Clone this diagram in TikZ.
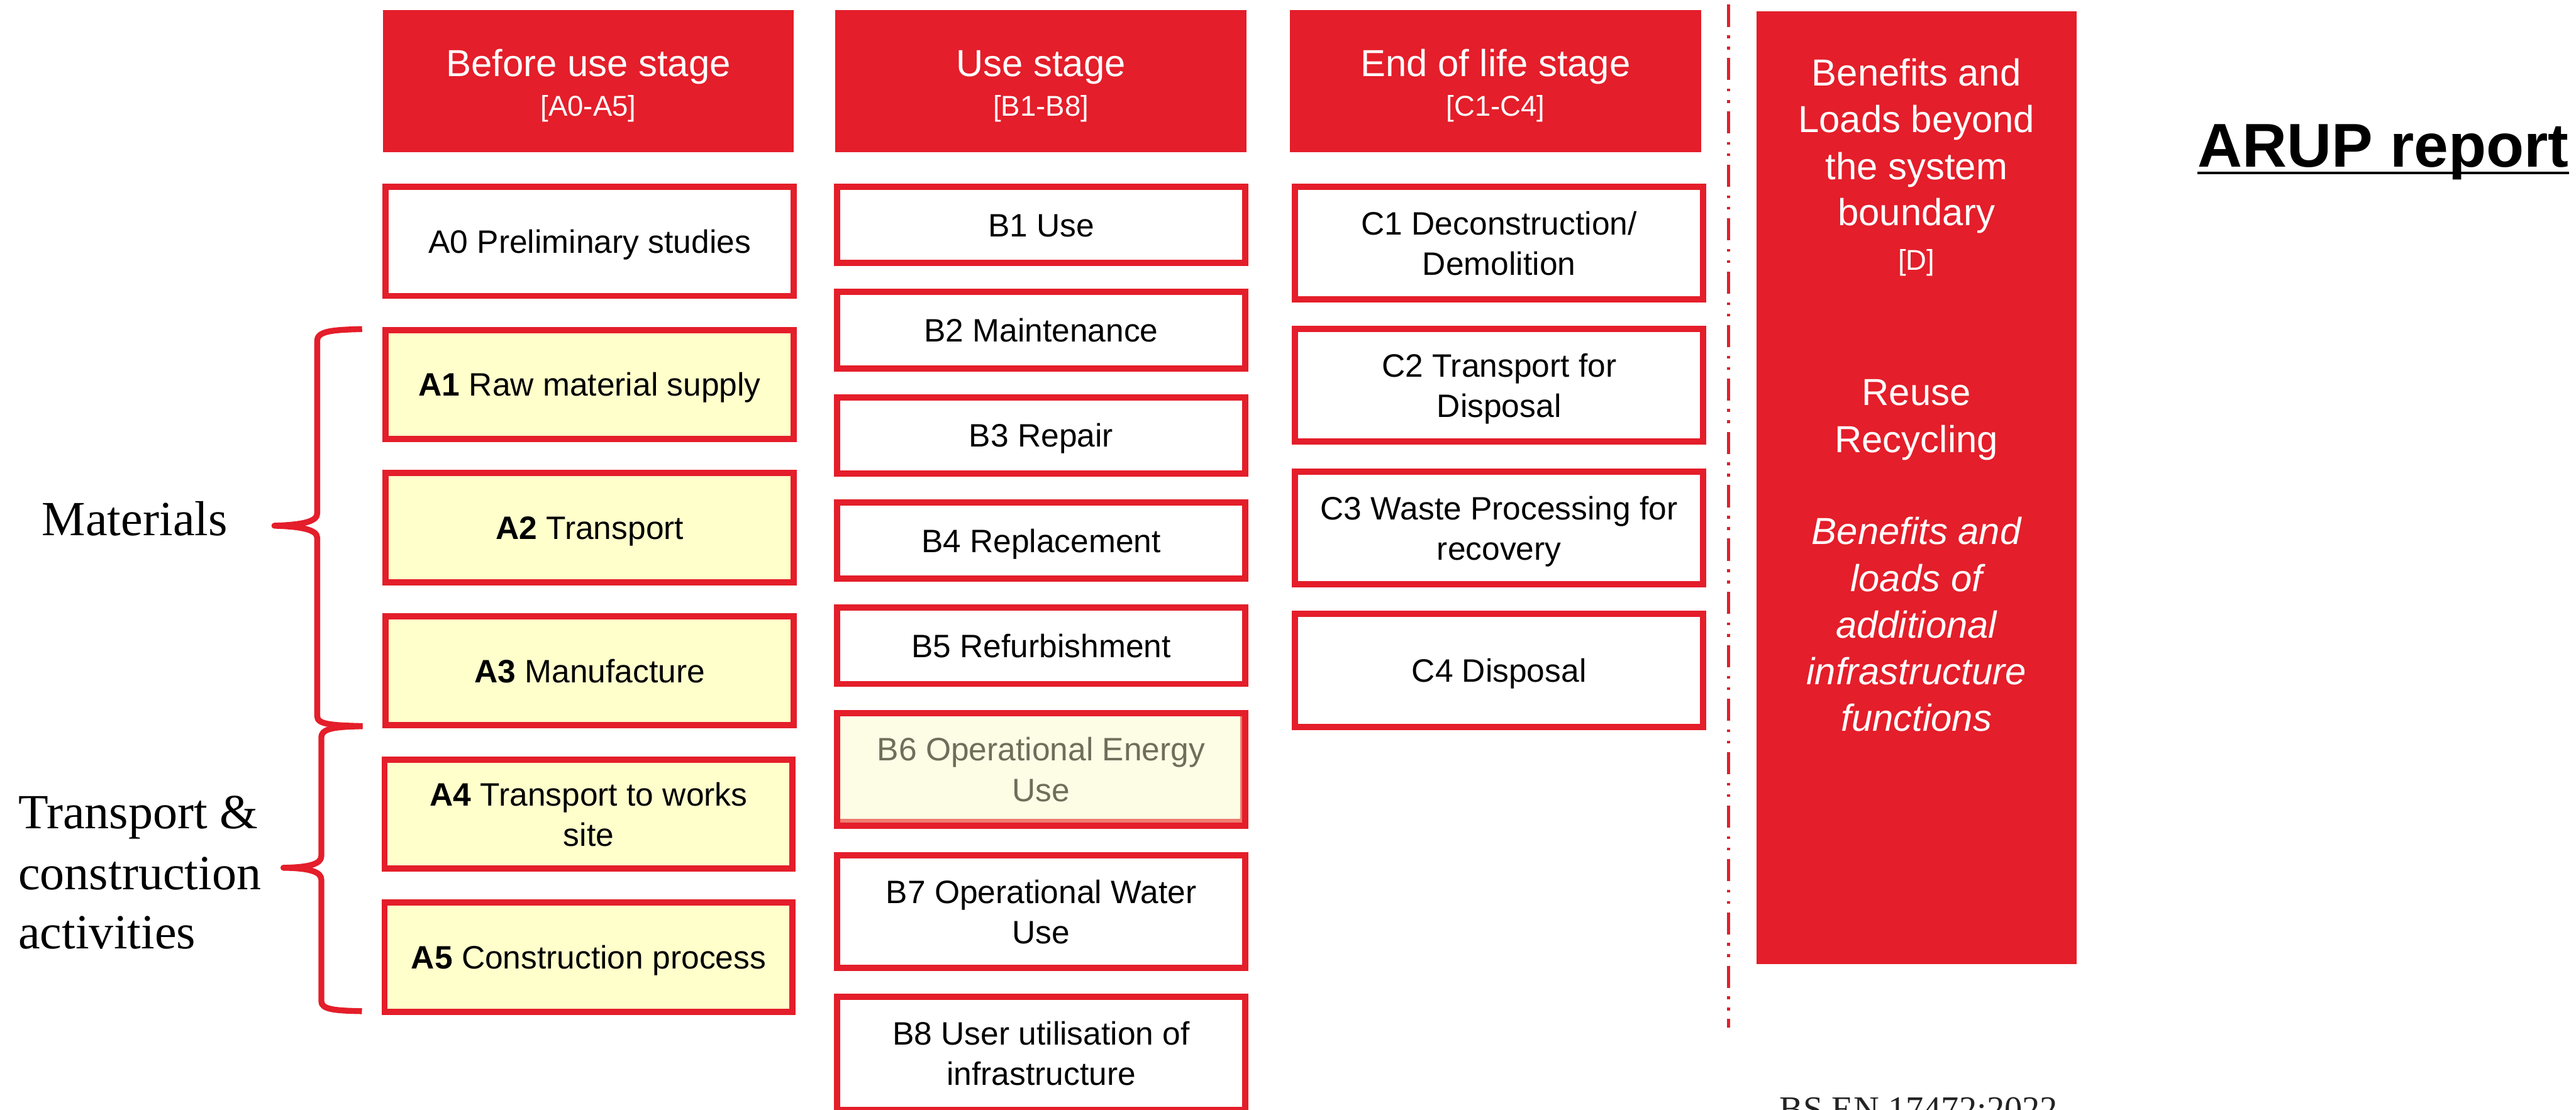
\documentclass[tikz,border=0pt]{standalone}
\usepackage{fontspec}
\setmainfont{Liberation Sans}
\newfontfamily\labelserif{Liberation Serif}
\definecolor{arupred}{RGB}{228,30,42}
\definecolor{stagefill}{RGB}{255,255,204}
\definecolor{energyfill}{RGB}{253,253,230}
\definecolor{energytext}{RGB}{110,110,90}
\definecolor{shadowpink}{RGB}{238,125,112}
\definecolor{stdgrey}{RGB}{35,35,35}
\tikzset{
  header/.style={fill=arupred, draw=none, inner sep=0pt, outer sep=0pt,
    minimum width=250.2bp, minimum height=86.5bp},
  hdrtitle/.style={text=white, font=\fontsize{23}{27}\selectfont, inner sep=0pt, anchor=base},
  hdrcode/.style={text=white, font=\fontsize{17.5}{21}\selectfont, inner sep=0pt, anchor=base},
  dtext/.style={text=white, font=\fontsize{23}{28}\selectfont, inner sep=0pt, anchor=base},
  ditalic/.style={dtext, font=\fontsize{23}{28}\selectfont\itshape},
  stagebox/.style={draw=arupred, line width=3.8bp, fill=white, inner sep=0pt, outer sep=0pt,
    minimum width=248.4bp, align=center, font=\fontsize{19.8}{24.6}\selectfont,
    text height=14.2bp, text depth=0bp},
  rowa/.style={minimum height=66.4bp},
  rowshort/.style={minimum height=46.4bp},
  rowtall/.style={minimum height=68.7bp},
  twolines/.style={text height=38.8bp, text depth=0bp},
  material/.style={fill=stagefill},
  energy/.style={fill=energyfill, text=energytext},
  sidelabel/.style={font=\labelserif\fontsize{30}{36}\selectfont, inner sep=0pt, anchor=base west},
  brace/.style={draw=arupred, line width=3.6bp, line join=round},
  boundary/.style={draw=arupred, line width=1.7bp,
    dash pattern=on 13.5bp off 5.2bp on 1.7bp off 5.2bp on 1.7bp off 5.2bp}
}
\begin{document}
\begin{tikzpicture}[x=1bp,y=-1bp]
\useasboundingbox (0,0) rectangle (1568,675.6);
\clip (0,0) rectangle (1568,675.6);

% stage headers
\node[header] (hA) at (358.1,49.35) {};
\node[hdrtitle] (hAt) at (358.1,46.6) {Before use stage};
\node[hdrcode] (hAc) at (358.1,70.5) {[A0-A5]};
\node[header] (hB) at (633.6,49.35) {};
\node[hdrtitle] (hBt) at (633.6,46.6) {Use stage};
\node[hdrcode] (hBc) at (633.6,70.5) {[B1-B8]};
\node[header] (hC) at (910.3,49.35) {};
\node[hdrtitle] (hCt) at (910.3,46.6) {End of life stage};
\node[hdrcode] (hCc) at (910.3,70.5) {[C1-C4]};

% before use stage modules
\node[stagebox, rowa] (A0) at (359,146.9) {A0 Preliminary studies};
\node[stagebox, rowa, material] (A1) at (359,234.05) {\textbf{A1} Raw material supply};
\node[stagebox, rowa, material] (A2) at (359,321.2) {\textbf{A2} Transport};
\node[stagebox, rowa, material] (A3) at (359,408.35) {\textbf{A3} Manufacture};
\node[stagebox, rowa, material, twolines] (A4) at (358.3,495.5) {\textbf{A4} Transport to works\\site};
\node[stagebox, rowa, material] (A5) at (358.3,582.65) {\textbf{A5} Construction process};

% use stage modules
\node[stagebox, rowshort] (B1) at (633.75,136.9) {B1 Use};
\node[stagebox, rowshort] (B2) at (633.75,200.95) {B2 Maintenance};
\node[stagebox, rowshort] (B3) at (633.75,265.0) {B3 Repair};
\node[stagebox, rowshort] (B4) at (633.75,329.05) {B4 Replacement};
\node[stagebox, rowshort] (B5) at (633.75,393.1) {B5 Refurbishment};
\node[stagebox, rowtall, energy, twolines] (B6) at (633.75,468.3) {B6 Operational Energy\\Use};
\draw[shadowpink, line width=2.1bp] ([xshift=2bp,yshift=3.05bp]B6.south west) -- ([xshift=-2.5bp,yshift=3.05bp]B6.south east);
\draw[shadowpink, line width=1bp] ([xshift=-2.4bp,yshift=2bp]B6.south east) -- ([xshift=-2.4bp,yshift=-2bp]B6.north east);
\node[stagebox, rowtall, twolines] (B7) at (633.75,554.9) {B7 Operational Water\\Use};
\node[stagebox, rowtall, twolines] (B8) at (633.75,641.25) {B8 User utilisation of\\infrastructure};

% end of life stage modules
\node[stagebox, rowtall, twolines] (C1) at (912.5,147.9) {C1 Deconstruction/\\Demolition};
\node[stagebox, rowtall, twolines] (C2) at (912.5,234.5) {C2 Transport for\\Disposal};
\node[stagebox, rowtall, twolines] (C3) at (912.5,321.4) {C3 Waste Processing for\\recovery};
\node[stagebox, rowtall] (C4) at (912.5,408.0) {C4 Disposal};

% system boundary
\coordinate (bndTop) at (1052.1,2.8);
\coordinate (bndBot) at (1052.1,625.5);
\draw[boundary] (bndTop) -- (bndBot);

% module D
\node[header, minimum width=195bp, minimum height=580.2bp] (D) at (1166.5,296.9) {};
\node[dtext] (D1) at (1166.5,52.1) {Benefits and};
\node[dtext] (D2) at (1166.5,80.7) {Loads beyond};
\node[dtext] (D3) at (1166.5,109.3) {the system};
\node[dtext] (D4) at (1166.5,137.3) {boundary};
\node[hdrcode] (D5) at (1166.5,164.5) {[D]};
\node[dtext] (D6) at (1166.5,246.7) {Reuse};
\node[dtext] (D7) at (1166.5,275.3) {Recycling};
\node[ditalic] (D8) at (1166.5,331.3) {Benefits and};
\node[ditalic] (D9) at (1166.5,360.0) {loads of};
\node[ditalic] (D10) at (1166.5,388.4) {additional};
\node[ditalic] (D11) at (1166.5,416.7) {infrastructure};
\node[ditalic] (D12) at (1166.5,445.0) {functions};

% grouping braces
\draw[brace] (220.4,200.3) .. controls (202,200.8) and (193.1,201.5) .. (193.1,207.5)
  -- (193.1,312.5) .. controls (193.1,317.5) and (184,319.5) .. (167,320)
  .. controls (184,320.5) and (193.1,322.5) .. (193.1,327.5)
  -- (193.1,436) .. controls (193.1,441) and (202,441.5) .. (220.7,442);
\draw[brace] (220.7,442) .. controls (204.5,442.5) and (195.6,443) .. (195.6,449)
  -- (195.6,521) .. controls (195.6,526) and (188,528) .. (172.5,528.2)
  .. controls (188,528.4) and (195.6,530.5) .. (195.6,535.5)
  -- (195.6,609.5) .. controls (195.6,614.5) and (204,615.2) .. (220.3,615.5);

\node[sidelabel] (mat) at (25.4,326) {Materials};
\node[sidelabel] (tc1) at (11,504.4) {Transport \&};
\node[sidelabel] (tc2) at (11,541.3) {construction};
\node[sidelabel] (tc3) at (11,577.6) {activities};

% title and standard reference
\node[font=\bfseries\fontsize{37.8}{42}\selectfont, inner sep=0pt, anchor=base west] (arup) at (1337.5,101.6) {ARUP report};
\draw[line width=1.6bp] ([yshift=-3.7bp]arup.base west) -- ([yshift=-3.7bp]arup.base east);
\node[font=\labelserif\fontsize{21.7}{24}\selectfont, text=stdgrey, inner sep=0pt, anchor=base west] (std) at (1083,682.4) {BS EN 17472:2022};
\end{tikzpicture}
\end{document}
